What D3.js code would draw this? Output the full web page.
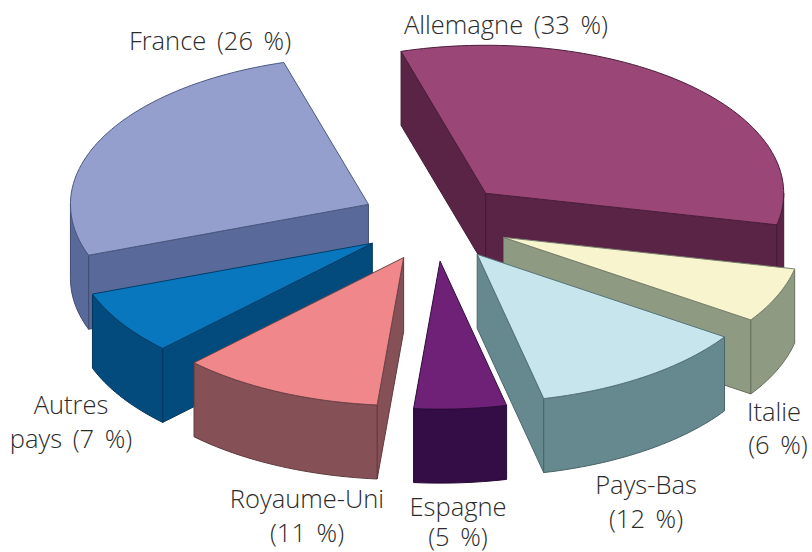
<!DOCTYPE html>
<html><head><meta charset="utf-8">
<script src="https://cdnjs.cloudflare.com/ajax/libs/d3/7.8.5/d3.min.js"></script>
<style>html,body{margin:0;background:#fff}svg{display:block}text{font-family:"Open Sans",sans-serif;font-weight:300;font-size:25.5px;word-spacing:4px;fill:#2b2b2b}</style>
</head><body><script>
const categories = ["Allemagne","Italie","Pays-Bas","Espagne","Royaume-Uni","Autres pays","France"];
const shares = [33,6,12,5,11,7,26];
const topColors = ["#9a4677","#f8f5ce","#c6e5ec","#6f2178","#f0878a","#0877bd","#959fce"];
const sideColors = ["#5a2446","#8f9a83","#66898f","#340d47","#855056","#034a7d","#596a9a"];
const drawOrder = ["France","Allemagne","Autres pays","Italie","Royaume-Uni","Pays-Bas","Espagne"];
const labelLines = [
  {lines:["Allemagne (33 %)"],x:[506],y:[34]},
  {lines:["France (26 %)"],x:[210],y:[50]},
  {lines:["Autres","pays (7 %)"],x:[71,71],y:[414,448]},
  {lines:["Royaume-Uni","(11 %)"],x:[307,307],y:[508,542]},
  {lines:["Espagne","(5 %)"],x:[458,458],y:[516,546]},
  {lines:["Pays-Bas","(12 %)"],x:[646,646],y:[494,528]},
  {lines:["Italie","(6 %)"],x:[774,778],y:[421,454]}
];

const W=812,H=552,cx=435,cy=222,rx=298,ry=148,depth=74,explodeX=0.25,explodeY=0.265;
const rad=Math.PI/180,start=-16.5*rad;
const svg=d3.select("body").append("svg").attr("width",W).attr("height",H);
const sx=d3.scaleLinear().domain([-1,1]).range([cx-rx,cx+rx]);
const sy=d3.scaleLinear().domain([-1,1]).range([cy+ry,cy-ry]);
const arcs=d3.pie().sort(null).startAngle(start).endAngle(start+2*Math.PI)(shares);
const line=d3.line().x(d=>d[0]).y(d=>d[1]);

function slice(i){
  const a=arcs[i],m=(a.startAngle+a.endAngle)/2;
  const ox=explodeX*Math.sin(m),oy=explodeY*Math.cos(m);
  const pt=(ang,r,dz)=>[sx(ox+r*Math.sin(ang)),sy(oy+r*Math.cos(ang))+dz];
  return {a,pt};
}
const sweep=(a0,a1)=>{const n=Math.max(2,Math.ceil((a1-a0)/(1.5*rad)));return d3.range(n+1).map(k=>a0+(a1-a0)*k/n)};

drawOrder.forEach(name=>{
  const i=categories.indexOf(name),{a,pt}=slice(i),g=svg.append("g");
  const side=sideColors[i],edge=d3.color(side).darker(0.9).formatHex();
  const quad=ang=>line([pt(ang,0,0),pt(ang,1,0),pt(ang,1,depth),pt(ang,0,depth)])+"Z";
  const style=s=>s.attr("fill",side).attr("stroke",edge).attr("stroke-width",1).attr("stroke-linejoin","round");
  if(Math.sin(a.startAngle)<0) g.append("path").attr("d",quad(a.startAngle)).call(style);
  if(Math.sin(a.endAngle)>0) g.append("path").attr("d",quad(a.endAngle)).call(style);
  const lo=Math.max(a.startAngle,90*rad),hi=Math.min(a.endAngle,270*rad);
  if(hi>lo){
    const angs=sweep(lo,hi);
    const pts=angs.map(t=>pt(t,1,0)).concat(angs.slice().reverse().map(t=>pt(t,1,depth)));
    g.append("path").attr("d",line(pts)+"Z").call(style);
  }
  const rim=sweep(a.startAngle,a.endAngle).map(t=>pt(t,1,0));
  g.append("path").attr("d",line([pt(0,0,0),...rim])+"Z")
    .attr("fill",topColors[i]).attr("stroke",d3.color(side).darker(0.5).formatHex())
    .attr("stroke-width",1).attr("stroke-linejoin","round");
});

labelLines.forEach(l=>l.lines.forEach((t,k)=>{
  svg.append("text").attr("x",l.x[k]).attr("y",l.y[k]).attr("text-anchor","middle").text(t);
}));
</script></body></html>
